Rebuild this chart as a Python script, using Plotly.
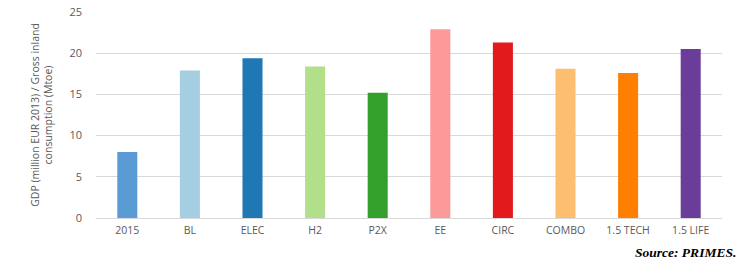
import plotly.graph_objects as go

categories = ["2015", "BL", "ELEC", "H2", "P2X", "EE", "CIRC", "COMBO", "1.5 TECH", "1.5 LIFE"]
values = [8.0, 17.9, 19.4, 18.4, 15.2, 22.9, 21.3, 18.1, 17.6, 20.5]
colors = ["#5B9BD5", "#A6CEE3", "#1F78B4", "#B2DF8A", "#33A02C",
          "#FB9A99", "#E31A1C", "#FDBF6F", "#FF7F00", "#6A3D9A"]
y_ticks = [0, 5, 10, 15, 20, 25]

fig = go.Figure(go.Bar(x=categories, y=values, marker=dict(color=colors, line=dict(width=0))))

fig.update_layout(
    width=740, height=260,
    margin=dict(l=96, r=18, t=12, b=42, autoexpand=False),
    paper_bgcolor="white", plot_bgcolor="white",
    bargap=0.68,
    showlegend=False,
    font=dict(family="Open Sans, sans-serif", color="#595959", size=11),
    xaxis=dict(showgrid=False, showline=False, ticks="", automargin=False, ticklabelstandoff=4,
               tickfont=dict(size=10.5, color="#595959")),
    yaxis=dict(range=[0, 25], tickvals=y_ticks, showgrid=True, gridcolor="#D9D9D9", gridwidth=1,
               zeroline=True, zerolinecolor="#D9D9D9", zerolinewidth=1, automargin=False,
               ticks="", ticklen=0, ticklabelstandoff=13, tickfont=dict(size=11, color="#595959"),
               title=dict(text="GDP (million EUR 2013) / Gross inland<br>consumption (Mtoe)",
                          font=dict(size=10.5, color="#595959"), standoff=14)),
    annotations=[dict(text="<b><i>Source: PRIMES.</i></b>", xref="paper", yref="paper",
                      x=1.026, y=-0.12, xanchor="right", yanchor="top", showarrow=False,
                      font=dict(family="Liberation Serif, serif", size=13.5, color="#000000"))],
)

fig.write_html("out.html", config={"displayModeBar": False},
               post_script="document.body.style.margin='0';document.body.style.overflow='hidden';")
